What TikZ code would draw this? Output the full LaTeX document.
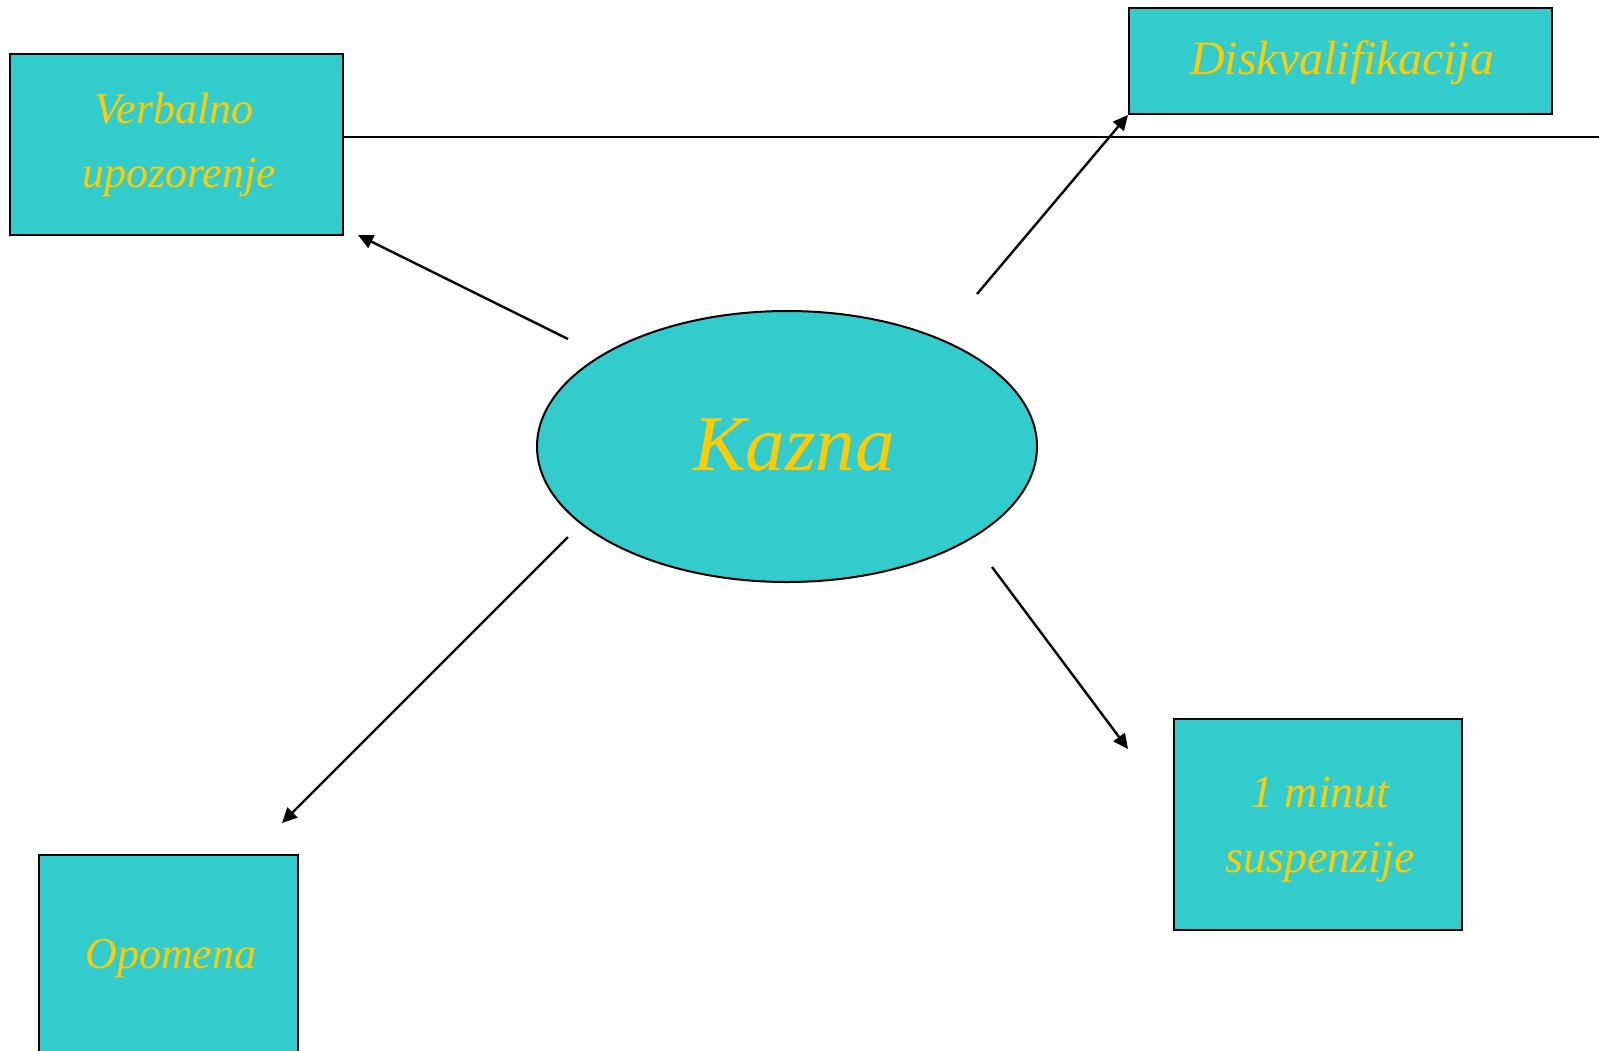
\documentclass[tikz,border=0pt]{standalone}
\usepackage{fontspec}
\setmainfont{Liberation Serif}
\usetikzlibrary{arrows.meta,shapes.geometric}
\definecolor{tealfill}{HTML}{33CCCC}
\definecolor{goldtext}{HTML}{FFCC00}
\begin{document}
\begin{tikzpicture}[x=0.5pt,y=-0.5pt,
  box/.style={draw=black, line width=1pt, fill=tealfill, rectangle, inner sep=0pt, anchor=north west},
  txt/.style={text=goldtext, anchor=base, inner sep=0pt},
  small/.style={font=\itshape\fontsize{23}{32}\selectfont},
  smaller/.style={font=\itshape\fontsize{22}{32}\selectfont},
  wide/.style={font=\itshape\fontsize{24}{32}\selectfont},
  big/.style={font=\itshape\fontsize{39.5}{48}\selectfont},
  conn/.style={line width=1.2pt, -{Triangle[length=7.5pt,width=7pt]}}]
\useasboundingbox (0,0) rectangle (1599,1050);
\clip (0,0) rectangle (1599,1050);

% boxes
\node[box, minimum width=166.5pt, minimum height=90.5pt] (verb) at (9,53) {};
\node[box, minimum width=211.5pt, minimum height=53pt] (disk) at (1128,7) {};
\node[box, minimum width=144pt, minimum height=105.5pt] (minut) at (1173,718) {};
\node[box, minimum width=129.5pt, minimum height=112pt] (opom) at (38,854) {};
\node[draw=black, line width=1pt, fill=tealfill, ellipse, inner sep=0pt,
      minimum width=250pt, minimum height=135.5pt] (kazna) at (787,446.5) {};

% texts
\node[txt, smaller] (verbA) at (174,123) {Verbalno};
\node[txt, smaller] (verbB) at (179,187) {upozorenje};
\node[txt, wide] (diskT) at (1342,74) {Diskvalifikacija};
\node[txt, small] (minA) at (1320,807) {1 minut};
\node[txt, small] (minB) at (1320,872) {suspenzije};
\node[txt, smaller] (opomT) at (171,968) {Opomena};
\node[txt, big] (kaznaT) at (794,470) {Kazna};

% horizontal line
\coordinate (lineEnd) at (1599,137);
\draw[line width=1pt] (lineEnd -| verb.east) -- (lineEnd);

% arrows
\coordinate (s1) at (568,339);
\coordinate (t1) at (358,235);
\coordinate (s2) at (977,294);
\coordinate (s3) at (568,537);
\coordinate (t3) at (282,823);
\coordinate (s4) at (992,567);
\coordinate (t4) at (1128,749);
\draw[conn] (s1) -- (t1);
\draw[conn] (s2) -- (disk.south west);
\draw[conn] (s3) -- (t3);
\draw[conn] (s4) -- (t4);
\end{tikzpicture}
\end{document}
